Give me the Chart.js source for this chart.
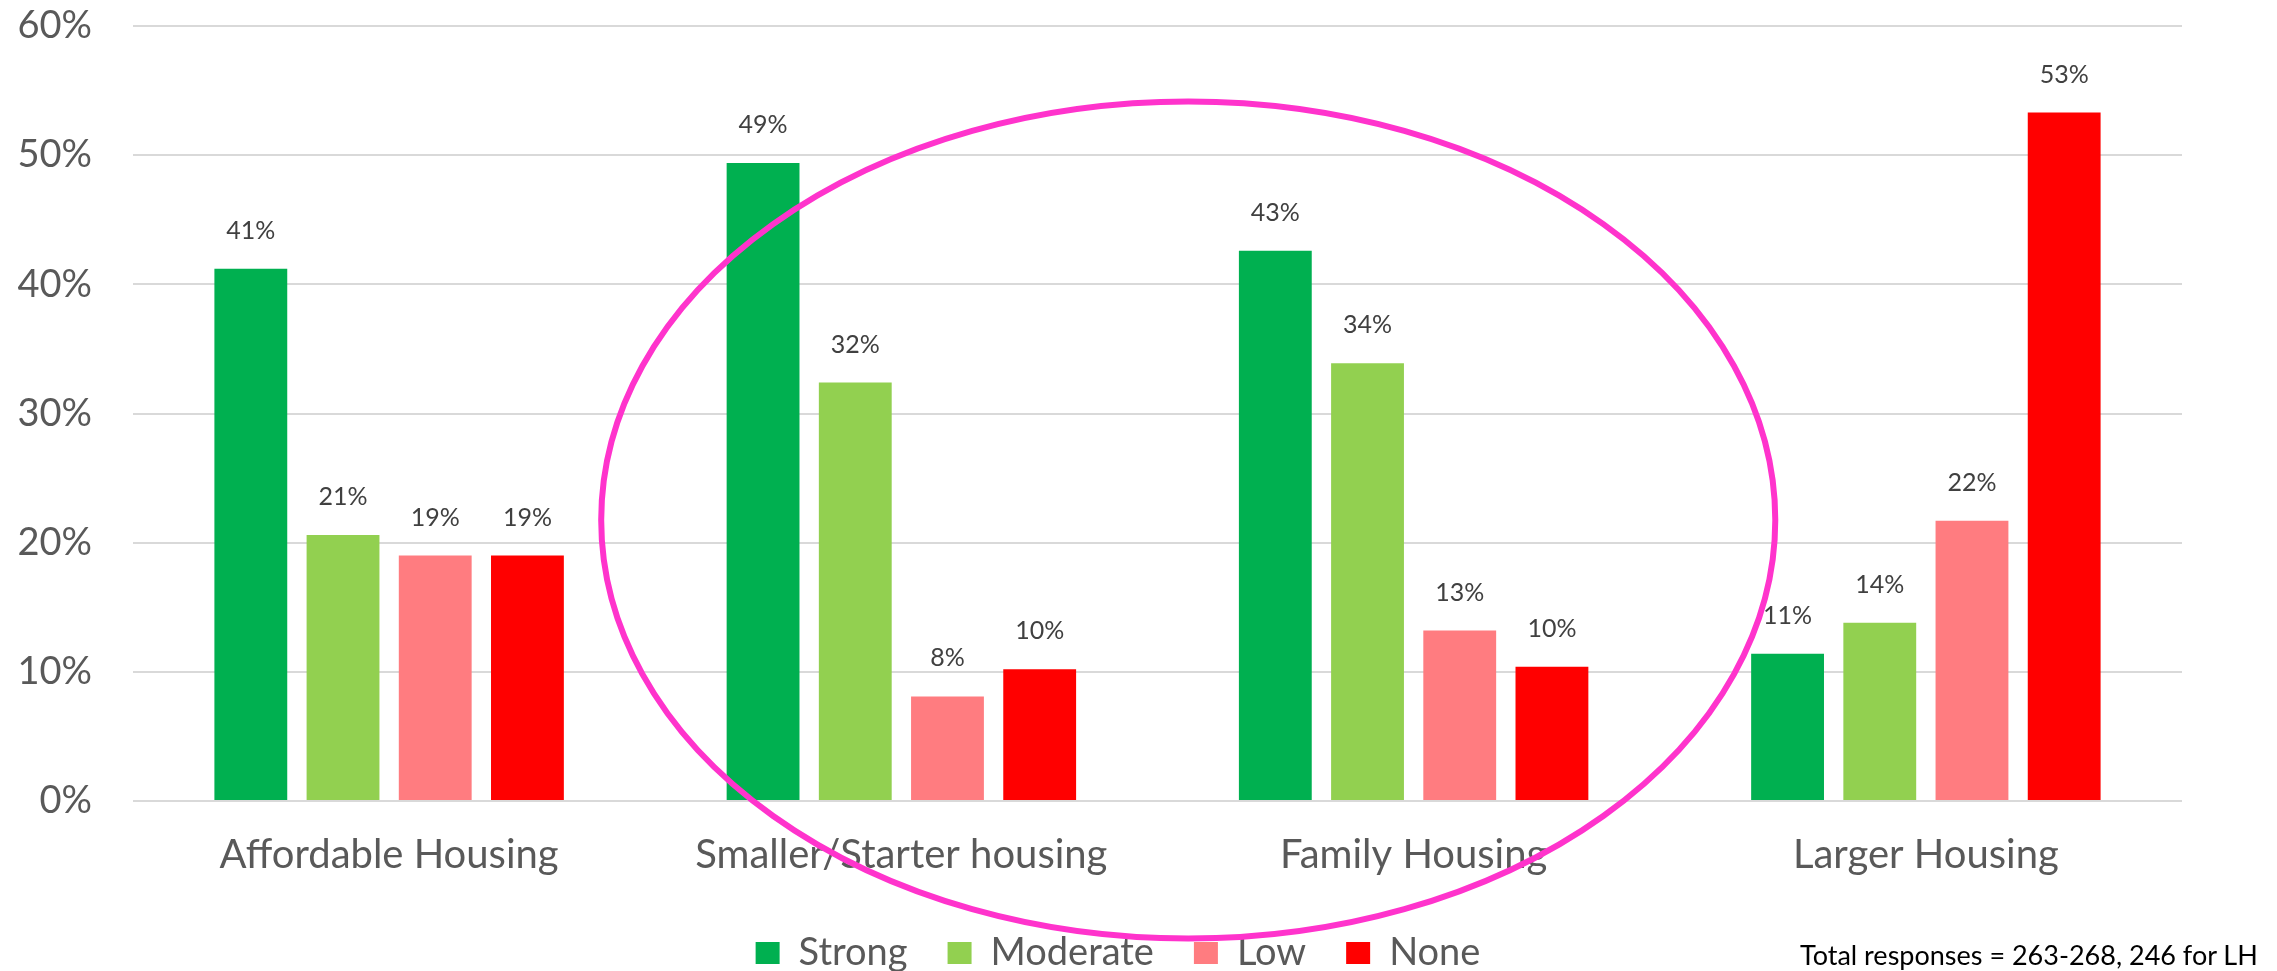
<!DOCTYPE html>
<html>
<head>
<meta charset="utf-8">
<script src="https://cdn.jsdelivr.net/npm/chart.js@4.4.1/dist/chart.umd.min.js"></script>
<style>
  html, body { margin: 0; padding: 0; background: #fff; }
  #wrap { position: relative; width: 2277px; height: 971px; overflow: hidden; }
  #note { position: absolute; left: 1800px; top: 938px; font: 27px Lato, "Open Sans", sans-serif; color: #000; white-space: nowrap; }
</style>
</head>
<body>
<div id="wrap">
  <canvas id="myChart" width="2277" height="971"></canvas>
  <div id="note">Total responses = 263-268, 246 for LH</div>
</div>
<script>
const categories = ["Affordable Housing", "Smaller/Starter housing", "Family Housing", "Larger Housing"];
const strong = [41.2, 49.4, 42.6, 11.4];
const moderate = [20.6, 32.4, 33.9, 13.8];
const low = [19.0, 8.1, 13.2, 21.7];
const none = [19.0, 10.2, 10.4, 53.3];
const yTicks = [0, 10, 20, 30, 40, 50, 60];

// labels over each bar
const valueLabels = {
    id: 'valueLabels',
    afterDatasetsDraw(chart) {
        let ctx = chart.ctx;
        ctx.save();
        ctx.font = '25px Lato';
        ctx.fillStyle = '#404040';
        ctx.textAlign = 'center';
        ctx.textBaseline = 'alphabetic';
        chart.data.datasets.forEach((ds, i) => {
            chart.getDatasetMeta(i).data.forEach((bar, j) => {
                ctx.fillText(Math.round(ds.data[j]) + '%', bar.x, bar.y - 30);
            });
        });
        ctx.restore();
    }
};

// the pink ring round the two middle groups
const ring = {
    id: 'ring',
    afterDraw(chart) {
        let x = chart.scales.x, y = chart.scales.y;
        let step = x.getPixelForValue(1) - x.getPixelForValue(0);
        let cx = x.getPixelForValue(1.56);
        let cy = y.getPixelForValue(21.75);
        let rx = step * 1.146;
        let ry = y.getPixelForValue(0) - y.getPixelForValue(32.4);
        let ctx = chart.ctx;
        ctx.save();
        ctx.beginPath();
        ctx.ellipse(cx, cy, rx, ry, 0, 0, Math.PI * 2);
        ctx.strokeStyle = '#FF33CC';
        ctx.lineWidth = 6;
        ctx.stroke();
        ctx.restore();
    }
};

// legend sits a little right of the canvas centre in the original
const legendShift = {
    id: 'legendShift',
    afterLayout(chart) {
        chart.legend.left = 54;
    }
};

let ctx = document.getElementById("myChart");
let myChart = new Chart(ctx, {
    type: 'bar',
    data: {
        labels: categories,
        datasets: [
            { label: 'Strong', data: strong, backgroundColor: '#00B050' },
            { label: 'Moderate', data: moderate, backgroundColor: '#92D050' },
            { label: 'Low', data: low, backgroundColor: '#FF7C80' },
            { label: 'None', data: none, backgroundColor: '#FF0000' }
        ]
    },
    options: {
        responsive: false,
        animation: false,
        devicePixelRatio: 1,
        layout: { padding: { top: 26, right: 95, bottom: -11, left: 0 } },
        datasets: { bar: { categoryPercentage: 0.72, barPercentage: 0.79 } },
        scales: {
            x: {
                afterFit: (s) => { s.height = 93; },
                grid: { display: false, drawTicks: false },
                border: { display: false },
                ticks: { color: '#595959', font: { family: 'Lato', size: 40 }, padding: 30 }
            },
            y: {
                min: 0,
                max: 60,
                afterBuildTicks: (s) => { s.ticks = yTicks.map(v => ({ value: v })); },
                afterFit: (s) => { s.width = 133; },
                grid: { color: '#D9D9D9', lineWidth: 2, drawTicks: true, tickLength: 41, tickColor: 'rgba(0,0,0,0)' },
                border: { display: false },
                ticks: {
                    color: '#595959',
                    font: { family: 'Lato', size: 38 },
                    padding: 0,
                    callback: (v) => v + '%'
                }
            }
        },
        plugins: {
            legend: {
                position: 'bottom',
                labels: {
                    color: '#595959',
                    font: { family: 'Lato', size: 38 },
                    boxWidth: 24,
                    boxHeight: 22,
                    padding: 40
                }
            },
            tooltip: { enabled: false }
        }
    },
    plugins: [valueLabels, ring, legendShift]
});
</script>
</body>
</html>
